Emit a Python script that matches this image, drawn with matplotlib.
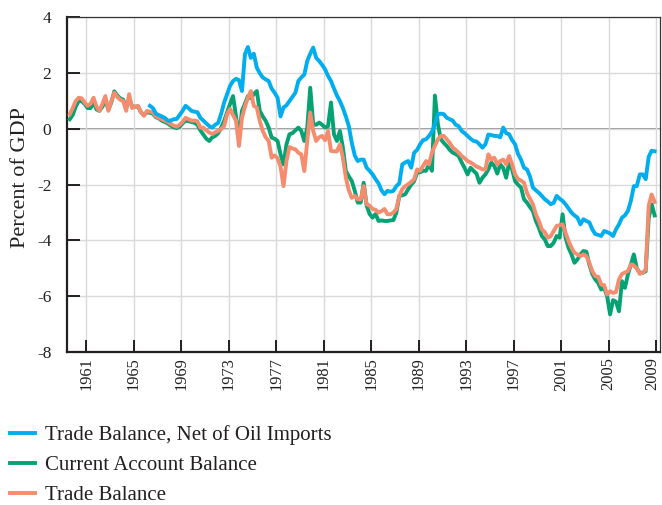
import matplotlib
matplotlib.use('Agg')
import matplotlib.pyplot as plt
import matplotlib.transforms as mtransforms
import numpy as np

plt.rcParams['font.family'] = ['Liberation Serif', 'DejaVu Serif']
plt.rcParams['axes.unicode_minus'] = False

# quarterly values, percent of GDP, 1960Q1 - 2009Q2
trade_balance = [
    0.53, 0.75, 1.00, 1.12,  1.10, 0.95, 0.83, 0.90,  1.12, 0.80, 0.65, 0.90,
    1.18, 0.65, 1.00, 1.30,  1.15, 1.05, 1.00, 0.65,  1.25, 0.75, 0.80, 0.83,
    0.60, 0.47, 0.65, 0.62,  0.60, 0.45, 0.40, 0.35,  0.30, 0.25, 0.18, 0.12,
    0.08, 0.15, 0.25, 0.40,  0.35, 0.30, 0.30, 0.28,  0.05, 0.05, -0.05, -0.13,
    -0.18, -0.12, -0.07, 0.00,  0.10, 0.53, 0.72, 0.50,  0.29, -0.61, 0.40, 0.80,
    1.12, 1.36, 0.83, 0.77,  0.29, -0.07, -0.30, -0.43,  -1.03, -0.95, -1.05, -1.35,
    -2.05, -1.15, -0.65, -0.70,  -0.73, -0.85, -0.91, -1.51,  -0.43, 0.59, -0.07, -0.43,
    -0.30, -0.25, -0.40, -0.07,  -0.79, -0.80, -0.80, -0.55,  -1.03, -1.75, -2.20, -2.47,
    -2.40, -2.52, -2.52, -2.05,  -2.70, -2.75, -2.87, -2.90,  -3.00, -2.95, -2.87, -3.06,
    -3.06, -3.00, -2.87, -2.40,  -2.16, -2.05, -1.98, -1.90,  -1.80, -1.45, -1.50, -1.33,
    -1.15, -1.27, -0.85, -0.60,  -0.37, -0.25, -0.25, -0.37,  -0.50, -0.67, -0.75, -0.85,
    -0.97, -1.05, -1.15, -1.20,  -1.27, -1.35, -1.39, -1.45,  -1.45, -0.91, -1.10, -1.03,
    -1.27, -1.15, -1.10, -1.27,  -0.97, -1.27, -1.63, -1.80,  -1.85, -1.93, -2.29, -2.50,
    -2.70, -3.06, -3.30, -3.60,  -3.70, -3.90, -3.85, -3.66,  -3.48, -3.45, -3.42, -3.72,
    -4.02, -4.26, -4.44, -4.50,  -4.56, -4.50, -4.56, -4.80,  -5.10, -5.28, -5.30, -5.58,
    -5.60, -5.94, -5.82, -5.88,  -5.85, -5.40, -5.20, -5.15,  -5.10, -4.86, -4.90, -5.00,
    -5.20, -5.15, -5.05, -2.75,  -2.35, -2.62,
]

current_account = [
    0.35, 0.50, 0.80, 1.00,  1.00, 0.90, 0.75, 0.75,  0.95, 0.70, 0.65, 0.80,
    1.05, 0.70, 0.95, 1.35,  1.20, 1.10, 1.05, 0.75,  1.10, 0.80, 0.80, 0.80,
    0.60, 0.50, 0.60, 0.58,  0.55, 0.42, 0.38, 0.30,  0.25, 0.20, 0.12, 0.06,
    0.03, 0.08, 0.20, 0.30,  0.28, 0.25, 0.22, 0.15,  -0.05, -0.20, -0.35, -0.43,
    -0.30, -0.25, -0.15, 0.05,  0.29, 0.60, 0.90, 1.18,  0.45, -0.31, 0.65, 0.90,
    1.18, 1.10, 1.25, 1.36,  0.65, 0.45, 0.29, 0.05,  -0.31, -0.35, -0.43, -0.91,
    -1.27, -0.55, -0.19, -0.15,  -0.05, 0.05, -0.07, -0.43,  0.05, 1.48, 0.17, 0.15,
    0.23, 0.15, 0.05, 0.10,  0.95, -0.20, -0.43, -0.07,  -0.67, -1.51, -1.70, -1.87,
    -2.22, -2.64, -2.64, -1.93,  -2.75, -3.05, -3.18, -3.05,  -3.30, -3.28, -3.30, -3.30,
    -3.28, -3.27, -3.00, -2.40,  -2.38, -2.34, -2.16, -2.00,  -1.87, -1.57, -1.55, -1.50,
    -1.50, -1.27, -1.50, 1.20,  0.17, -0.37, -0.50, -0.61,  -0.75, -0.85, -0.90, -0.97,
    -1.20, -1.40, -1.63, -1.39,  -1.50, -1.60, -1.93, -1.75,  -1.63, -1.45, -1.20, -1.33,
    -1.60, -1.27, -1.40, -1.75,  -1.20, -1.45, -1.87, -2.00,  -2.10, -2.52, -2.64, -2.80,
    -2.94, -3.30, -3.54, -3.84,  -3.96, -4.20, -4.20, -4.08,  -3.84, -3.90, -3.06, -3.90,
    -4.26, -4.50, -4.80, -4.68,  -4.50, -4.38, -4.40, -4.86,  -5.20, -5.40, -5.52, -5.76,
    -5.70, -6.00, -6.65, -6.14,  -6.20, -6.54, -5.46, -5.70,  -5.22, -4.86, -4.50, -5.00,
    -5.16, -5.16, -5.10, -3.20,  -2.70, -3.10,
]

# trade balance net of oil imports, 1966Q4 - 2009Q2
trade_ex_oil = [
    0.83,
    0.75, 0.55, 0.50, 0.45,  0.40, 0.30, 0.30, 0.35,  0.36, 0.50, 0.65, 0.83,
    0.75, 0.65, 0.62, 0.60,  0.40, 0.30, 0.20, 0.10,  0.05, 0.15, 0.22, 0.55,
    0.95, 1.25, 1.55, 1.72,  1.80, 1.75, 1.36, 2.68,  2.94, 2.55, 2.70, 2.20,
    2.00, 1.85, 1.78, 1.72,  1.45, 1.30, 1.12, 0.45,  0.77, 0.85, 1.00, 1.15,
    1.30, 1.72, 1.85, 1.95,  2.44, 2.70, 2.92, 2.55,  2.44, 2.30, 2.14, 1.90,
    1.72, 1.45, 1.20, 1.00,  0.75, 0.45, 0.10, -0.50,  -0.95, -1.15, -1.10, -1.10,
    -1.39, -1.50, -1.63, -1.80,  -1.95, -2.20, -2.34, -2.22,  -2.25, -2.22, -2.05, -1.95,
    -1.27, -1.20, -1.15, -1.39,  -0.85, -0.75, -0.55, -0.40,  -0.37, -0.25, -0.10, 0.17,
    0.53, 0.55, 0.53, 0.40,  0.35, 0.30, 0.15, 0.10,  -0.07, -0.15, -0.25, -0.35,
    -0.43, -0.45, -0.55, -0.67,  -0.55, -0.20, -0.22, -0.25,  -0.25, -0.30, 0.05, -0.15,
    -0.19, -0.40, -0.55, -0.90,  -1.10, -1.39, -1.45, -1.70,  -2.10, -2.20, -2.29, -2.40,
    -2.52, -2.60, -2.70, -2.65,  -2.40, -2.50, -2.58, -2.70,  -2.85, -3.00, -3.10, -3.18,
    -3.42, -3.24, -3.30, -3.35,  -3.60, -3.77, -3.80, -3.84,  -3.66, -3.70, -3.75, -3.84,
    -3.60, -3.42, -3.18, -3.10,  -2.94, -2.58, -2.05, -2.05,  -1.63, -1.63, -1.80, -1.00,
    -0.78, -0.80,
]

tick_years = list(range(1961, 2010, 4))
y_ticks = [-8, -6, -4, -2, 0, 2, 4]

BLUE = '#00aeef'
GREEN = '#06a273'
ORANGE = '#f58c6e'
INK = '#231f20'

n = len(trade_balance)
quarters = 1960 + np.arange(n) / 4 + 0.125
ex_oil_start = n - len(trade_ex_oil)

fig = plt.figure(figsize=(6.62, 5.05), dpi=100)
ax = fig.add_axes([0.1008, 0.303, 0.8955, 0.6624])

ax.grid(True, color='#dadada', linewidth=1.0, zorder=0)
ax.axhline(0, color='#8c8c8c', linewidth=1.3, zorder=1)

l_ca, = ax.plot(quarters, current_account, color=GREEN, lw=2.8, zorder=3)
l_tb, = ax.plot(quarters, trade_balance, color=ORANGE, lw=2.8, zorder=4)
l_ex, = ax.plot(quarters[ex_oil_start:], trade_ex_oil, color=BLUE, lw=2.8, zorder=5)

ax.set_xlim(1959.87, 2009.79)
ax.set_ylim(-8, 4)
ax.set_xticks([y + 0.5 for y in tick_years])
ax.set_xticklabels([str(y) for y in tick_years], rotation=90)
ax.set_yticks(y_ticks)
ax.set_yticklabels([str(v) for v in y_ticks])

ax.tick_params(direction='in', length=9, width=1.4, colors=INK, labelsize=12.5)
ax.tick_params(axis='y', pad=11)
ax.tick_params(axis='x', pad=4, labelsize=11.8)

# last year label sits on the figure edge, nudge it in a little
last = ax.get_xticklabels()[-1]
last.set_transform(last.get_transform() +
                   mtransforms.ScaledTranslation(-2.5 / 72, 0, fig.dpi_scale_trans))

for side in ['left', 'bottom']:
    ax.spines[side].set_linewidth(1.6)
    ax.spines[side].set_color(INK)
for side in ['top', 'right']:
    ax.spines[side].set_linewidth(0.9)
    ax.spines[side].set_color('#333333')

ax.set_ylabel('Percent of GDP', fontsize=16, color=INK)
ax.yaxis.set_label_coords(-0.062, 0.52)

fig.legend([l_ex, l_ca, l_tb],
           ['Trade Balance, Net of Oil Imports', 'Current Account Balance', 'Trade Balance'],
           loc='upper left', bbox_to_anchor=(0.015, 0.158), frameon=False,
           fontsize=15, handlelength=1.2, handletextpad=0.5, labelspacing=0.5,
           borderpad=0, borderaxespad=0, labelcolor=INK)

fig.savefig('out.png', dpi=100)
